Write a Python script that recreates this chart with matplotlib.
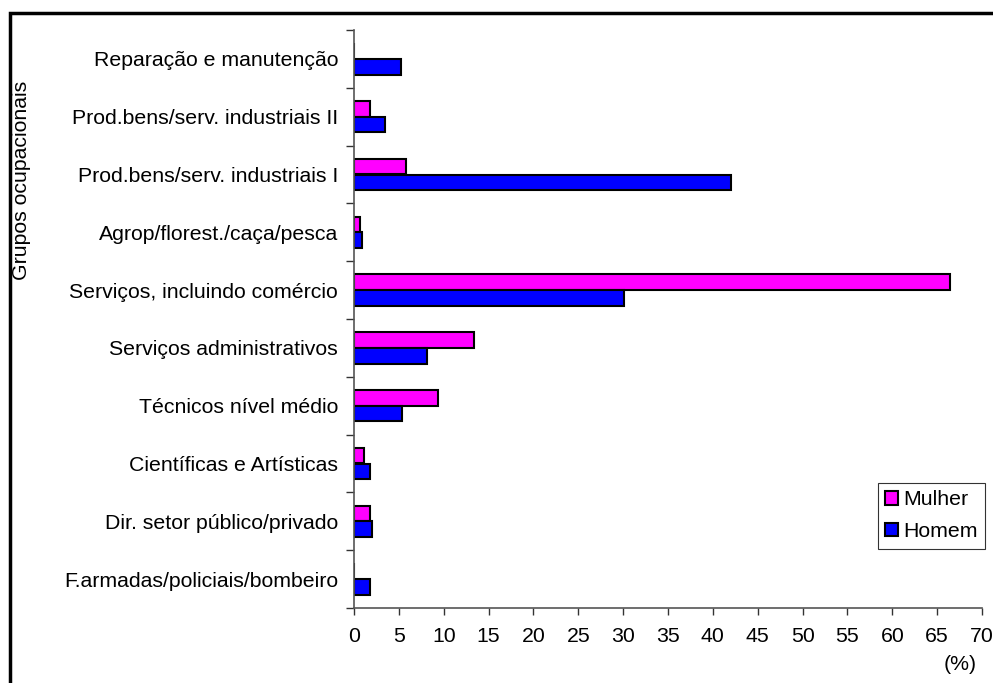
import matplotlib
matplotlib.use("Agg")
import matplotlib.pyplot as plt
from matplotlib.patches import Rectangle
import numpy as np

categories = [
    "F.armadas/policiais/bombeiro",
    "Dir. setor público/privado",
    "Científicas e Artísticas",
    "Técnicos nível médio",
    "Serviços administrativos",
    "Serviços, incluindo comércio",
    "Agrop/florest./caça/pesca",
    "Prod.bens/serv. industriais I",
    "Prod.bens/serv. industriais II",
    "Reparação e manutenção",
]
mulher = [0.0, 1.8, 1.1, 9.4, 13.4, 66.4, 0.7, 5.8, 1.8, 0.0]
homem = [1.8, 2.0, 1.8, 5.4, 8.1, 30.1, 0.9, 42.0, 3.4, 5.2]
xticks = list(range(0, 75, 5))

plt.rcParams['font.family'] = ['Liberation Sans', 'DejaVu Sans']
FS = 15.3

fig = plt.figure(figsize=(9.93, 6.83), dpi=100)
ax = fig.add_axes([354/993, 1-608/683, (982-354)/993, (608-30)/683])

y = np.arange(len(categories))
h = 0.27
off = 0.137
ax.barh(y + off, mulher, height=h, color='#FF00FF', edgecolor='black', linewidth=1.5, label='Mulher')
ax.barh(y - off, homem, height=h, color='#0000FF', edgecolor='black', linewidth=1.5, label='Homem')

ax.set_xlim(0, 70)
ax.set_ylim(-0.5, len(categories) - 0.5)
ax.set_xticks(xticks)
ax.set_xticklabels([str(t) for t in xticks], fontsize=FS)
ax.set_yticks(np.arange(-0.5, len(categories), 1.0))
ax.set_yticklabels([])
ax.set_yticks(y, minor=True)
ax.set_yticklabels(categories, minor=True, fontsize=FS)
ax.tick_params(axis='y', which='minor', length=0, pad=11.5)
ax.tick_params(axis='y', which='major', length=6, width=1, color='#333333', direction='out')
ax.tick_params(axis='x', length=5, width=1, color='#333333', pad=9)

for s in ['top', 'right']:
    ax.spines[s].set_visible(False)
for s in ['left', 'bottom']:
    ax.spines[s].set_color('#555555')
    ax.spines[s].set_linewidth(1.2)

fig.text(22/993, 1-180/683, "Grupos ocupacionais", rotation=90, ha='center', va='center', fontsize=FS)
fig.text(960/993, 1-665/683, "(%)", ha='center', va='center', fontsize=FS)

leg = ax.legend(loc='upper left', bbox_to_anchor=((878-354)/628, (608-483)/578), frameon=True,
                fontsize=FS, handlelength=0.6, handleheight=0.6, handletextpad=0.25,
                borderpad=0.35, labelspacing=0.6, fancybox=False, borderaxespad=0)
leg.get_frame().set_edgecolor('black')
leg.get_frame().set_linewidth(0.8)

# outer border
fig.add_artist(Rectangle((10/993, -0.05), 1.1, (1-13/683) + 0.05, transform=fig.transFigure,
                         fill=False, edgecolor='black', linewidth=2.5, clip_on=False))

fig.savefig("out.png", dpi=100)
